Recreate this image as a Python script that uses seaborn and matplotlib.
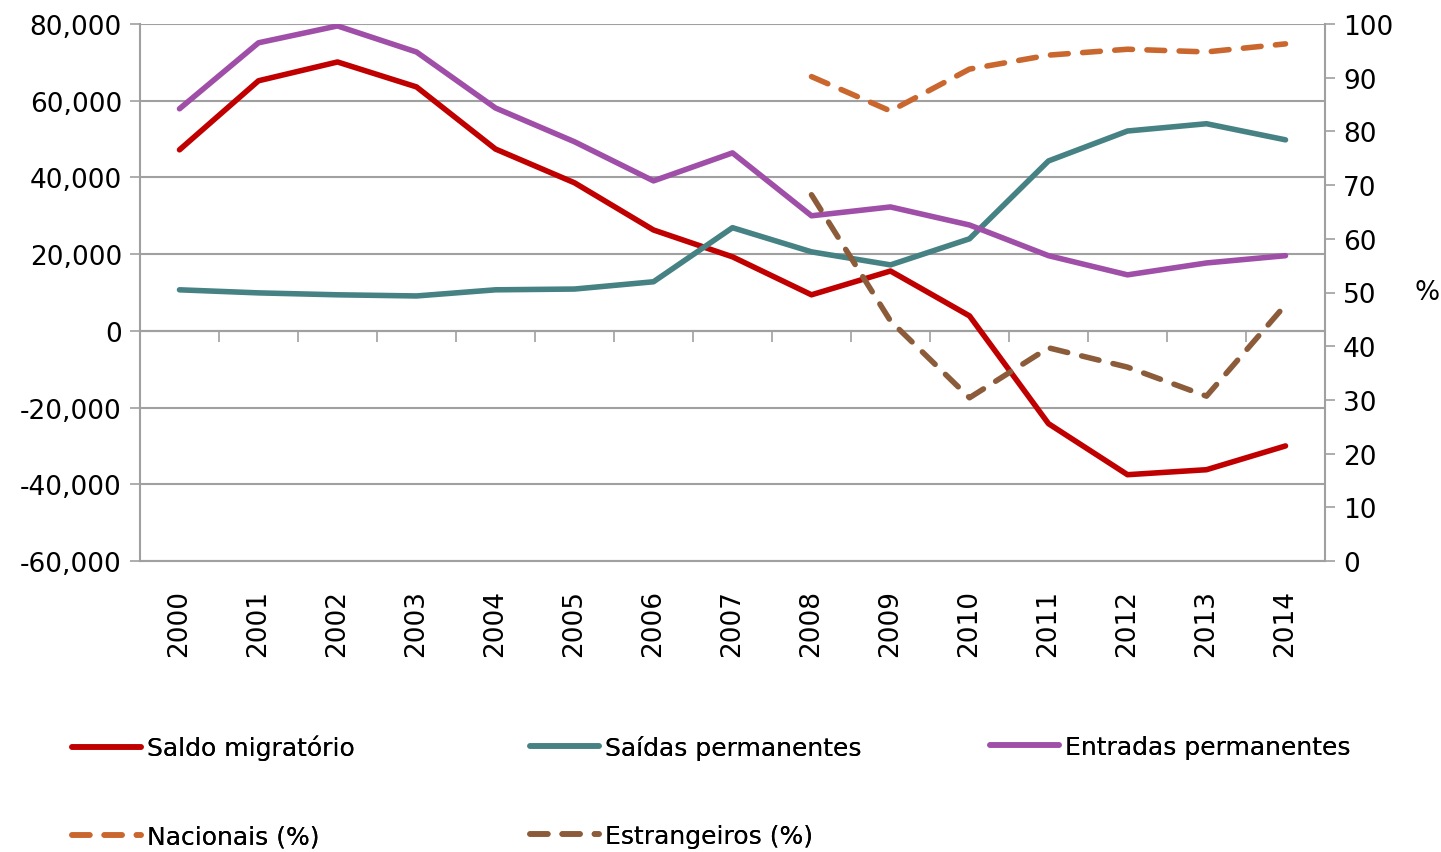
import numpy as np
import pandas as pd
import matplotlib
matplotlib.use("Agg")
import matplotlib.pyplot as plt
from matplotlib.ticker import FuncFormatter, FixedLocator
import seaborn as sns

# Data
years = ["2000", "2001", "2002", "2003", "2004", "2005", "2006", "2007",
         "2008", "2009", "2010", "2011", "2012", "2013", "2014"]
saldo = [47200, 65200, 70100, 63600, 47400, 38600, 26300, 19300,
         9400, 15600, 3900, -24200, -37500, -36200, -30000]
saidas = [10700, 9900, 9400, 9100, 10700, 10900, 12800, 26900,
          20600, 17200, 24000, 44300, 52100, 54000, 49800]
entradas = [57900, 75100, 79500, 72700, 58100, 49300, 39100, 46400,
            30000, 32300, 27600, 19600, 14600, 17700, 19600]
# percentages only available from 2008
pct_years = ["2008", "2009", "2010", "2011", "2012", "2013", "2014"]
nacionais = [90.2, 83.8, 91.6, 94.2, 95.3, 94.8, 96.3]
estrangeiros = [68.2, 44.7, 30.4, 39.7, 36.1, 30.7, 47.7]

labels = ["Saldo migratório", "Saídas permanentes", "Entradas permanentes",
          "Nacionais (%)", "Estrangeiros (%)"]
colors = ["#C00000", "#468284", "#A04FA8", "#C9672E", "#8B5B3A"]

sns.set_style("white")
plt.rcParams["font.family"] = ["DejaVu Sans"]
plt.rcParams["font.size"] = 19
plt.rcParams["text.color"] = "black"
plt.rcParams["xtick.labelcolor"] = "black"
plt.rcParams["ytick.labelcolor"] = "black"
plt.rcParams["axes.labelcolor"] = "black"

pos = {y: i for i, y in enumerate(years)}
df_left = pd.DataFrame({
    "x": [pos[y] for y in years] * 3,
    "value": saldo + saidas + entradas,
    "serie": [labels[0]] * 15 + [labels[1]] * 15 + [labels[2]] * 15,
})
df_right = pd.DataFrame({
    "x": [pos[y] for y in pct_years] * 2,
    "value": nacionais + estrangeiros,
    "serie": [labels[3]] * 7 + [labels[4]] * 7,
})

fig = plt.figure(figsize=(14.41, 8.53), dpi=100)
ax = fig.add_axes([140 / 1441, 1 - 562 / 853, 1185 / 1441, 537 / 853])
ax2 = ax.twinx()

grid_c = "#A0A0A0"

for lab, col in zip(labels[:3], colors[:3]):
    sns.lineplot(data=df_left[df_left.serie == lab], x="x", y="value", ax=ax,
                 color=col, lw=4, label=lab, legend=False,
                 solid_capstyle="round", solid_joinstyle="round", zorder=3)
for lab, col in zip(labels[3:], colors[3:]):
    sns.lineplot(data=df_right[df_right.serie == lab], x="x", y="value", ax=ax2,
                 color=col, lw=4, label=lab, legend=False,
                 dash_capstyle="round")
for line in ax2.get_lines():
    line.set_dashes((3.2, 2.6))

# left axis
ax.set_xlim(-0.5, len(years) - 0.5)
ax.set_ylim(-60000, 80000)
ax.set_yticks(np.arange(-60000, 80001, 20000))
ax.yaxis.set_major_formatter(FuncFormatter(lambda v, p: f"{int(v):,}"))
ax.grid(axis="y", color=grid_c, lw=1.5)
ax.set_xticks(range(len(years)))
ax.set_xticklabels(years, rotation=90)
ax.tick_params(axis="x", length=0, pad=20, labelcolor="black")
ax.tick_params(axis="y", length=7, width=1.2, color=grid_c, direction="out",
               pad=6, labelcolor="black")
ax.set_xlabel("")
ax.set_ylabel("")
for s in ["top", "right"]:
    ax.spines[s].set_visible(False)
for s in ["left", "bottom"]:
    ax.spines[s].set_color(grid_c)
    ax.spines[s].set_linewidth(1.5)

# horizontal axis line at zero with category boundary ticks
zero_loc = 60000 / 140000
sec = ax.secondary_xaxis(zero_loc)
sec.xaxis.set_major_locator(FixedLocator(np.arange(-0.5, len(years), 1.0)))
sec.tick_params(axis="x", length=8, width=1.2, color=grid_c, direction="out",
                labelbottom=False, labeltop=False, bottom=True, top=False)
sec.spines["bottom"].set_color(grid_c)
sec.spines["bottom"].set_linewidth(1.5)
sec.spines["top"].set_visible(False)

# right axis
ax2.set_ylim(0, 100)
ax2.set_yticks(np.arange(0, 101, 10))
ax2.tick_params(axis="y", length=7, width=1.2, color=grid_c, direction="out",
                pad=6, labelcolor="black")
ax2.set_ylabel("%", rotation=0, labelpad=24, va="center")
ax2.set_xlabel("")
for s in ["top", "left", "bottom"]:
    ax2.spines[s].set_visible(False)
ax2.spines["right"].set_color(grid_c)
ax2.spines["right"].set_linewidth(1.5)

# legend: three columns, row 1 solid lines, row 2 dashed
h1 = ax.get_lines()
h2 = ax2.get_lines()
columns = [([h1[0], h2[0]], [labels[0], labels[3]], 72),
           ([h1[1], h2[1]], [labels[1], labels[4]], 530),
           ([h1[2]], [labels[2]], 990)]
for hs, ls, xpix in columns:
    leg = fig.legend(hs, ls, loc="upper left",
                     bbox_to_anchor=(xpix / 1441, 1 - 736 / 853),
                     frameon=False, fontsize=18, handlelength=2.75,
                     handletextpad=0.25, labelspacing=2.55,
                     borderpad=0, borderaxespad=0)
    fig.add_artist(leg)

fig.savefig("out.png", dpi=100)
